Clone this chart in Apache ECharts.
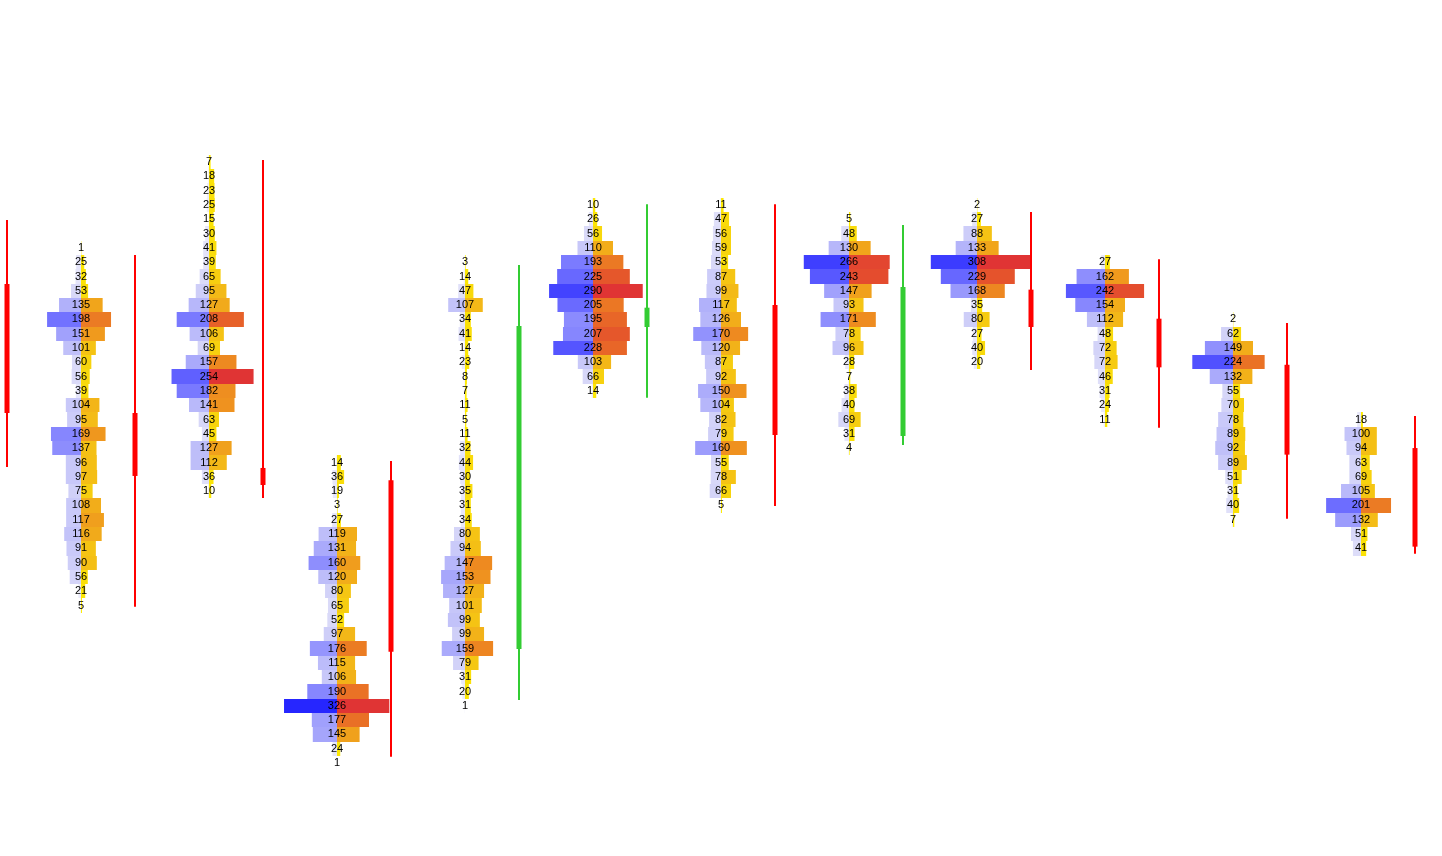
<!DOCTYPE html>
<html>
<head>
<meta charset="utf-8">
<script src="https://cdn.jsdelivr.net/npm/echarts@6/dist/echarts.min.js"></script>
<style>
html,body{margin:0;padding:0;background:#fff;}
#chart{width:1442px;height:856px;}
</style>
</head>
<body>
<div id="chart"></div>
<script>
// ---- candles (index 0..11) ----
const candleIdx = [0, 1, 2, 3, 4, 5, 6, 7, 8, 9, 10, 11];
const opens  = [133.47, 124.46, 120.62, 119.76, 107.97, 130.47, 132.01, 122.85, 133.08, 131.05, 127.83, 122.01];
const closes = [124.46, 120.06, 119.43, 107.78, 130.54, 131.82, 122.92, 133.26, 130.47, 127.65, 121.55, 115.12];
const lows   = [120.69, 110.92, 118.52, 100.44, 104.40, 125.53, 117.96, 122.22, 127.46, 123.43, 117.07, 114.63];
const highs  = [137.95, 135.50, 142.14, 121.10, 134.80, 139.04, 139.04, 137.60, 138.51, 135.20, 130.75, 124.25];

// ---- volume profiles (candles 1..11), top price level of each ----
const profileCandle = [1, 2, 3, 4, 5, 6, 7, 8, 9, 10, 11];
const profileTop = [136, 142, 121, 135, 139, 139, 138, 139, 135, 131, 124];

const vol1 = [1,25,32,53,135,198,151,101,60,56,39,104,95,169,137,96,97,75,108,117,116,91,90,56,21,5];
const bid1 = [0,15,17,31,68,105,77,55,28,29,16,47,43,93,89,47,47,39,46,46,52,45,41,35,8,2];
const vol2 = [7,18,23,25,15,30,41,39,65,95,127,208,106,69,157,254,182,141,63,45,127,112,36,10];
const bid2 = [2,2,6,7,1,12,18,18,29,41,63,100,60,35,72,116,100,62,32,22,57,57,22,3];
const vol3 = [14,36,19,3,27,119,131,160,120,80,65,52,97,176,115,106,190,326,177,145,24,1];
const bid3 = [2,14,13,1,15,57,72,88,58,37,28,30,41,84,59,47,92,164,78,75,14,1];
const vol4 = [3,14,47,107,34,41,14,23,8,7,11,5,11,32,44,30,35,31,34,80,94,147,153,127,101,99,99,159,79,31,20,1];
const bid4 = [1,4,21,52,16,20,4,10,2,2,3,1,3,15,19,15,12,13,13,34,45,63,74,68,49,53,40,72,37,12,8,1];
const vol5 = [10,26,56,110,193,225,290,205,195,207,228,103,66,14];
const bid5 = [3,13,28,48,99,111,136,110,90,93,123,47,32,4];
const vol6 = [11,47,56,59,53,87,99,117,126,170,120,87,92,150,104,82,79,160,55,78,66,5];
const bid6 = [3,22,25,28,31,43,45,68,64,86,61,50,46,71,64,37,40,80,31,32,35,2];
const vol7 = [5,48,130,266,243,147,93,171,78,96,28,7,38,40,69,31,4];
const bid7 = [1,24,63,140,121,77,48,88,42,51,12,3,14,23,33,14,2];
const vol8 = [2,27,88,133,308,229,168,35,80,27,40,20];
const bid8 = [1,15,42,66,143,112,82,19,41,13,15,10];
const vol9 = [27,162,242,154,112,48,72,72,46,31,24,11];
const bid9 = [12,88,121,92,56,23,36,33,22,17,12,4];
const vol10 = [2,62,149,224,132,55,70,78,89,92,89,51,31,40,7];
const bid10 = [1,37,87,126,72,33,36,46,51,55,46,24,17,21,3];
const vol11 = [18,100,94,63,69,105,201,132,51,41];
const bid11 = [12,51,45,36,36,62,108,80,31,25];

const vols = [vol1, vol2, vol3, vol4, vol5, vol6, vol7, vol8, vol9, vol10, vol11];
const bids = [bid1, bid2, bid3, bid4, bid5, bid6, bid7, bid8, bid9, bid10, bid11];

// ---- build series data ----
const candleData = candleIdx.map((x, i) => [x, opens[i], closes[i], lows[i], highs[i]]);
const profileData = [];
profileCandle.forEach((cx, k) => {
  vols[k].forEach((v, j) => {
    profileData.push([cx, profileTop[k] - j, v, bids[k][j]]);
  });
});

const PX_PER_VOL = 0.323;   // horizontal scale of the profile bars
const PROFILE_SHIFT = 54;   // profile drawn left of its candle (px)
const blueStops = ['#f2f2fb', '#d6d6f8', '#b4b4fa', '#7a7aff', '#4646ff', '#2424ff'];
const warmStops = ['#fff000', '#f8d80c', '#f3b818', '#ee8c20', '#e65c2a', '#e03434', '#e03434'];
const SIDE_MAX = 166;

function sideColor(v, stops) {
  const t = Math.max(0, Math.min(1, v / SIDE_MAX));
  return echarts.color.lerp(t, stops);
}

const chart = echarts.init(document.getElementById('chart'));
chart.setOption({
  animation: false,
  backgroundColor: '#ffffff',
  grid: { left: 0, right: 0, top: 0, bottom: 0 },
  xAxis: { type: 'value', min: -7 / 128, max: 1435 / 128, show: false, splitLine: { show: false } },
  yAxis: { type: 'value', min: 142 - 694 / 14.31, max: 142 + 162 / 14.31, show: false, splitLine: { show: false } },
  series: [
    {
      type: 'custom',
      data: profileData,
      clip: false,
      renderItem: function (params, api) {
        const x = api.value(0), p = api.value(1), tot = api.value(2), bid = api.value(3);
        const ask = tot - bid;
        const c = api.coord([x, p]);
        const cx = Math.round(c[0] - PROFILE_SHIFT);
        const h = api.size([0, 1])[1];
        const y0 = Math.round(c[1] - h / 2), y1 = Math.round(c[1] + h / 2);
        const children = [];
        if (bid > 0) {
          const w = bid * PX_PER_VOL;
          children.push({ type: 'rect', shape: { x: cx - w, y: y0, width: w, height: y1 - y0 },
            style: { fill: sideColor(bid, blueStops) } });
        }
        if (ask > 0) {
          const w = ask * PX_PER_VOL;
          children.push({ type: 'rect', shape: { x: cx, y: y0, width: w, height: y1 - y0 },
            style: { fill: sideColor(ask, warmStops) } });
        }
        children.push({ type: 'text', x: cx, y: c[1],
          style: { text: String(tot), align: 'center', verticalAlign: 'middle',
            fill: '#000', font: '11px "Liberation Sans", Arial, sans-serif' } });
        return { type: 'group', children: children };
      },
      z: 2
    },
    {
      type: 'custom',
      data: candleData,
      clip: false,
      renderItem: function (params, api) {
        const x = api.value(0), o = api.value(1), cl = api.value(2), lo = api.value(3), hi = api.value(4);
        const pH = api.coord([x, hi]), pL = api.coord([x, lo]), pO = api.coord([x, o]), pC = api.coord([x, cl]);
        const color = cl >= o ? '#33cc33' : '#ff0000';
        const top = Math.min(pO[1], pC[1]), bot = Math.max(pO[1], pC[1]);
        return { type: 'group', children: [
          { type: 'rect', shape: { x: pH[0] - 1, y: pH[1], width: 2, height: pL[1] - pH[1] }, style: { fill: color } },
          { type: 'rect', shape: { x: pH[0] - 2.5, y: top, width: 5, height: Math.max(1, bot - top) }, style: { fill: color } }
        ] };
      },
      z: 3
    }
  ]
});
</script>
</body>
</html>
